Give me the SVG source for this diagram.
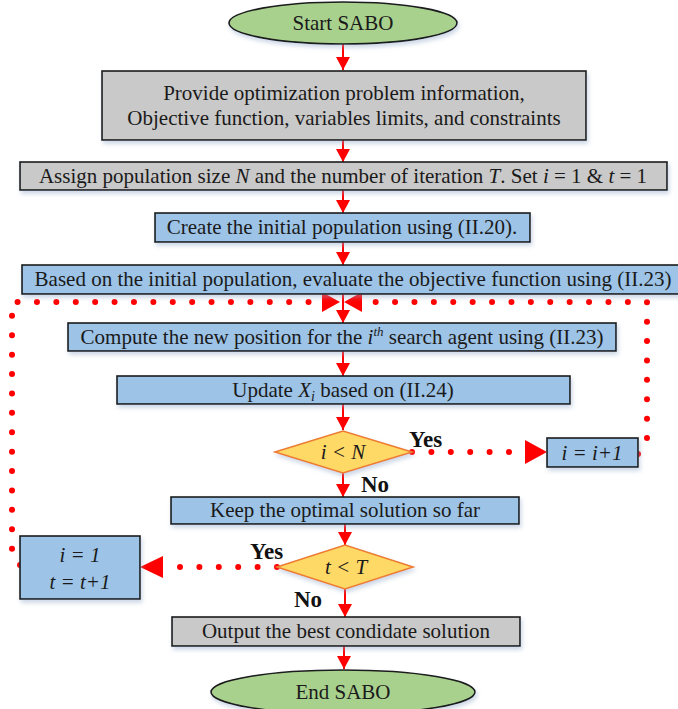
<svg xmlns="http://www.w3.org/2000/svg" width="678" height="709" viewBox="0 0 678 709">
  <style>
    .t { font-family: "Liberation Serif", "Times New Roman", serif; font-size: 21px; fill: #1a1a1a; text-anchor: middle; }
    .i { font-style: italic; }
    .lbl { font-family: "Liberation Serif", "Times New Roman", serif; font-size: 23px; font-weight: bold; fill: #111; }
    .gray { fill: #C9C9C9; stroke: #1a1a1a; stroke-width: 1.6; filter: url(#sh); }
    .blue { fill: #9DC3E6; stroke: #1a1a1a; stroke-width: 1.6; filter: url(#sh); }
    .term { fill: #A9D18E; stroke: #1a1a1a; stroke-width: 1.6; filter: url(#sh); }
    .dec { fill: #FFD966; stroke: #ED7D31; stroke-width: 1.6; filter: url(#sh); }
    .flow { stroke: #FF0000; stroke-width: 2; fill: none; marker-end: url(#ah); }
    .dot { stroke: #FF0000; stroke-width: 6; fill: none; stroke-linecap: round; stroke-dasharray: 0 19.4; }
    .big { fill: #FF0000; }
  </style>
  <defs>
    <filter id="sh" x="-10%" y="-20%" width="120%" height="160%">
      <feDropShadow dx="1.5" dy="3" stdDeviation="2" flood-color="#8FA8C8" flood-opacity="0.45"/>
    </filter>
    <marker id="ah" markerWidth="14" markerHeight="14" refX="13" refY="7" orient="auto" markerUnits="userSpaceOnUse">
      <path d="M0,0 L13,7 L0,14 Z" fill="#FF0000"/>
    </marker>
  </defs>

  <!-- connectors -->
  <g id="connectors">
    <line class="flow" x1="343" y1="44" x2="343" y2="70"/>
    <line class="flow" x1="343" y1="140" x2="343" y2="162"/>
    <line class="flow" x1="343" y1="190" x2="343" y2="213"/>
    <line class="flow" x1="343" y1="242" x2="343" y2="265"/>
    <line class="flow" x1="343" y1="294" x2="343" y2="323"/>
    <line class="flow" x1="343" y1="351" x2="343" y2="376"/>
    <line class="flow" x1="343" y1="404" x2="343" y2="430"/>
    <line class="flow" x1="343" y1="473" x2="343" y2="497"/>
    <line class="flow" x1="345" y1="524" x2="345" y2="545"/>
    <line class="flow" x1="345" y1="589" x2="345" y2="617"/>
    <line class="flow" x1="344" y1="646" x2="344" y2="669"/>

    <!-- i < N : Yes -->
    <path class="dot" d="M412,452 L520,452"/>
    <path class="big" d="M525,440 L547,452 L525,464 Z"/>

    <!-- i = i+1 back to the loop head -->
    <path class="dot" d="M638,454 L647,444 L647,302 L362,302"/>
    <path class="big" d="M362,292 L344,302 L362,312 Z"/>

    <!-- t < T : Yes -->
    <path class="dot" d="M277,567 L170,567"/>
    <path class="big" d="M163,556 L140,567 L163,578 Z"/>

    <!-- i = 1, t = t+1 back to the loop head -->
    <path class="dot" d="M20,565 L12,556 L12,302 L322,302"/>
    <path class="big" d="M322,292 L340,302 L322,312 Z"/>
  </g>

  <g id="start">
    <ellipse class="term" cx="343" cy="23" rx="114" ry="21"/>
    <text class="t" x="343" y="30">Start SABO</text>
  </g>

  <g id="provide">
    <rect class="gray" x="102" y="71" width="484" height="69"/>
    <text class="t" x="344" y="100">Provide optimization problem information,</text>
    <text class="t" x="344" y="125">Objective function, variables limits, and constraints</text>
  </g>

  <g id="assign">
    <rect class="gray" x="20" y="162" width="647" height="28"/>
    <text class="t" x="343" y="183">Assign population size <tspan class="i">N</tspan> and the number of iteration <tspan class="i">T</tspan>. Set <tspan class="i">i</tspan> = 1 &amp; <tspan class="i">t</tspan> = 1</text>
  </g>

  <g id="create">
    <rect class="blue" x="155" y="213" width="375" height="29"/>
    <text class="t" x="342" y="234">Create the initial population using (II.20).</text>
  </g>

  <g id="evaluate">
    <rect class="blue" x="22" y="265" width="660" height="29"/>
    <text class="t" x="353" y="286">Based on the initial population, evaluate the objective function using (II.23)</text>
  </g>

  <g id="compute">
    <rect class="blue" x="68" y="323" width="548" height="28"/>
    <text class="t" x="342" y="344">Compute the new position for the <tspan class="i">i</tspan><tspan class="i" font-size="13" dy="-8">th</tspan><tspan dy="8"> search agent using (II.23)</tspan></text>
  </g>

  <g id="update">
    <rect class="blue" x="117" y="376" width="453" height="28"/>
    <text class="t" x="343" y="397">Update <tspan class="i">X</tspan><tspan class="i" font-size="14" dy="4">i</tspan><tspan dy="-4"> based on (II.24)</tspan></text>
  </g>

  <g id="check-i">
    <path class="dec" d="M275,452 L343,431 L412,452 L343,473 Z"/>
    <text class="t i" x="343" y="459">i &lt; N</text>
    <text class="lbl" x="409" y="447">Yes</text>
    <text class="lbl" x="361" y="492">No</text>
  </g>

  <g id="increment-i">
    <rect class="blue" x="547" y="438" width="91" height="29"/>
    <text class="t i" x="592" y="460">i = i+1</text>
  </g>

  <g id="keep">
    <rect class="blue" x="171" y="497" width="348" height="27"/>
    <text class="t" x="345" y="517">Keep the optimal solution so far</text>
  </g>

  <g id="check-t">
    <path class="dec" d="M277,567 L345,545 L413,567 L345,589 Z"/>
    <text class="t i" x="346" y="574">t &lt; T</text>
    <text class="lbl" x="250" y="559">Yes</text>
    <text class="lbl" x="294" y="607">No</text>
  </g>

  <g id="reset">
    <rect class="blue" x="20" y="536" width="120" height="63"/>
    <text class="t i" x="80" y="562">i = 1</text>
    <text class="t i" x="80" y="589">t = t+1</text>
  </g>

  <g id="output">
    <rect class="gray" x="172" y="617" width="348" height="29"/>
    <text class="t" x="346" y="638">Output the best condidate solution</text>
  </g>

  <g id="end">
    <ellipse class="term" cx="343" cy="692" rx="132" ry="22"/>
    <text class="t" x="343" y="699">End SABO</text>
  </g>
</svg>
